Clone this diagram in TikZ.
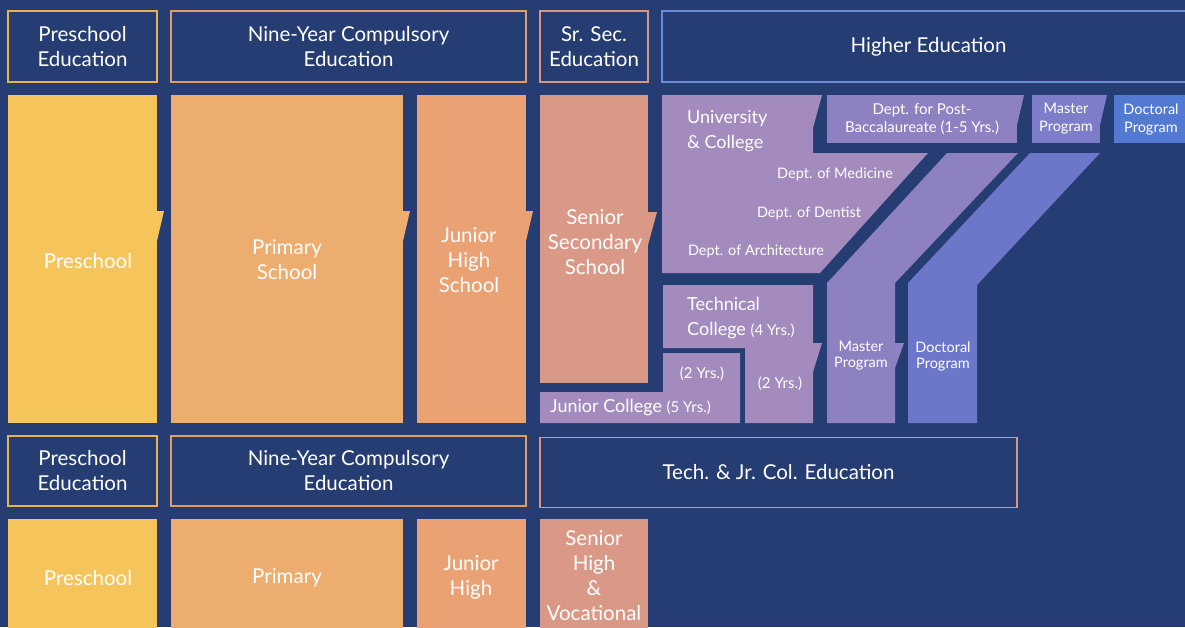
\documentclass[tikz,border=0pt]{standalone}
\usepackage{fontspec}
\setmainfont{Lato}
\usepackage{tikz}
\usetikzlibrary{positioning}

\definecolor{navy}{RGB}{37,61,114}
\definecolor{presch}{RGB}{245,197,92}
\definecolor{prim}{RGB}{237,173,111}
\definecolor{junhi}{RGB}{234,162,116}
\definecolor{senior}{RGB}{218,153,135}
\definecolor{univ}{RGB}{164,139,189}
\definecolor{postbac}{RGB}{141,129,194}
\definecolor{master}{RGB}{125,125,201}
\definecolor{doct}{RGB}{82,122,210}
\definecolor{bandone}{RGB}{142,129,193}
\definecolor{bandtwo}{RGB}{108,119,202}
\definecolor{goldline}{RGB}{232,178,76}
\definecolor{orangeline}{RGB}{222,158,98}
\definecolor{pinkline}{RGB}{214,152,130}
\definecolor{blueline}{RGB}{104,140,214}

\newcommand{\tabnotch}[3]{\fill[#1] (#2,#3) -- ++(7,0) -- ++(-7,30) -- cycle;}

\begin{document}
\begin{tikzpicture}[x=1pt,y=-1pt,
  hdr/.style={draw=#1,line width=1.3pt,text=white,align=center,inner sep=0pt,font=\fontsize{20.5}{25}\selectfont},
  blk/.style={fill=#1,text=white,align=center,inner sep=0pt,font=\fontsize{20.5}{25}\selectfont},
  lbl/.style={text=white,align=center,inner sep=0pt,font=\fontsize{14.5}{17}\selectfont},
  big/.style={text=white,inner sep=0pt,font=\fontsize{18}{25}\selectfont}]
\fill[navy] (0,0) rectangle (1185,627);
\clip (0,0) rectangle (1185,627);

\node[hdr=goldline,minimum width=149pt,minimum height=71pt] (preHdr) at (82.5,46.5) {Preschool\\Education};
\node[hdr=orangeline,minimum width=355pt,minimum height=71pt] (nineHdr) at (348.5,46.5) {Nine-Year Compulsory\\Education};
\node[hdr=pinkline,minimum width=108pt,minimum height=71pt] (srHdr) at (594,46.5) {Sr. Sec.\\Education};
\node[hdr=blueline,minimum width=533pt,minimum height=71pt] (higherHdr) at (928.5,46.5) {Higher Education};

\node[blk=presch,minimum width=149pt,minimum height=328pt] (preMain) at (82.5,259) {};
\node[blk=prim,minimum width=232pt,minimum height=328pt] (primMain) at (287,259) {};
\node[blk=junhi,minimum width=109pt,minimum height=328pt] (junMain) at (471.5,259) {};
\node[blk=senior,minimum width=108pt,minimum height=288pt] (senMain) at (594,239) {};
\node[blk=none] (preTxt) at (88,261) {Preschool};
\node[blk=none] (primTxt) at (287,260) {Primary\\School};
\node[blk=none] (junTxt) at (469,260) {Junior\\High\\School};
\node[blk=none] (senTxt) at (595,242) {Senior\\Secondary\\School};
\tabnotch{presch}{157}{211}
\tabnotch{prim}{403}{211}
\tabnotch{junhi}{526}{211}
\fill[senior] (648,212) -- ++(9,0) -- ++(-9,33) -- cycle;

\fill[univ] (662,95) -- (822,95) -- (813,128) -- (813,153) -- (928,153) -- (820,273) -- (662,273) -- cycle;
\node[big,align=left,anchor=west] (univTxt) at (687,131) {University\\\& College};
\node[lbl] (medTxt) at (835,174) {Dept. of Medicine};
\node[lbl] (dentTxt) at (809,213) {Dept. of Dentist};
\node[lbl] (archTxt) at (756,251) {Dept. of Architecture};

\fill[postbac] (827,95) rectangle (1017,143);
\tabnotch{postbac}{1017}{95}
\node[lbl,font=\fontsize{15}{18}\selectfont] (postTxt) at (922,119) {Dept. for Post-\\Baccalaureate (1-5 Yrs.)};
\fill[master] (1032,95) rectangle (1100,143);
\tabnotch{master}{1100}{95}
\node[lbl,font=\fontsize{14.5}{18}\selectfont] (masterTop) at (1066,119) {Master\\Program};
\fill[doct] (1114,95) rectangle (1190,143);
\node[lbl,font=\fontsize{14.5}{18}\selectfont] (doctTop) at (1151,119) {Doctoral\\Program};

\fill[bandone] (947,153) -- (1018,153) -- (895,283) -- (895,343) -- (904,343) -- (895,368) -- (895,423) -- (827,423) -- (827,283) -- cycle;
\node[lbl,font=\fontsize{14.5}{16}\selectfont] (masterLow) at (861,356) {Master\\Program};
\fill[bandtwo] (1030,153) -- (1100,153) -- (977,285) -- (977,423) -- (908,423) -- (908,283) -- cycle;
\node[lbl,font=\fontsize{14.5}{16}\selectfont] (doctLow) at (943,356) {Doctoral\\Program};

\fill[univ] (663,285) -- (813,285) -- (813,343) -- (822,343) -- (813,372) -- (813,423) -- (745,423) -- (745,348) -- (663,348) -- cycle;
\node[big,align=left,anchor=west] (techTxt) at (687,318.5) {Technical\\College {\fontsize{15}{25}\selectfont(4 Yrs.)}};
\node[lbl,font=\fontsize{15}{17}\selectfont] (techTwo) at (780,384) {(2 Yrs.)};
\fill[univ] (540,392) -- (663,392) -- (663,353) -- (740,353) -- (740,423) -- (540,423) -- cycle;
\node[lbl,font=\fontsize{15}{17}\selectfont] (jcTwo) at (702,374) {(2 Yrs.)};
\node[big,anchor=west] (jcTxt) at (550,408) {Junior College {\fontsize{15}{17}\selectfont(5 Yrs.)}};

\node[hdr=goldline,minimum width=149pt,minimum height=70pt] (preHdrB) at (82.5,471) {Preschool\\Education};
\node[hdr=orangeline,minimum width=355pt,minimum height=70pt] (nineHdrB) at (348.5,471) {Nine-Year Compulsory\\Education};
\node[hdr=pinkline,minimum width=477pt,minimum height=70pt] (techHdr) at (778.5,472.5) {Tech. \& Jr. Col. Education};

\node[blk=presch,minimum width=149pt,minimum height=116pt] (preBot) at (82.5,577) {};
\node[blk=prim,minimum width=232pt,minimum height=116pt] (primBot) at (287,577) {};
\node[blk=junhi,minimum width=109pt,minimum height=116pt] (junBot) at (471.5,577) {};
\node[blk=senior,minimum width=108pt,minimum height=116pt] (senBot) at (594,577) {};
\node[blk=none] (preBotTxt) at (88,578) {Preschool};
\node[blk=none] (primBotTxt) at (287,578) {Primary};
\node[blk=none] (junBotTxt) at (471,577) {Junior\\High};
\node[blk=none] (senBotTxt) at (594,576) {Senior\\High\\\&\\Vocational};
\end{tikzpicture}
\end{document}
